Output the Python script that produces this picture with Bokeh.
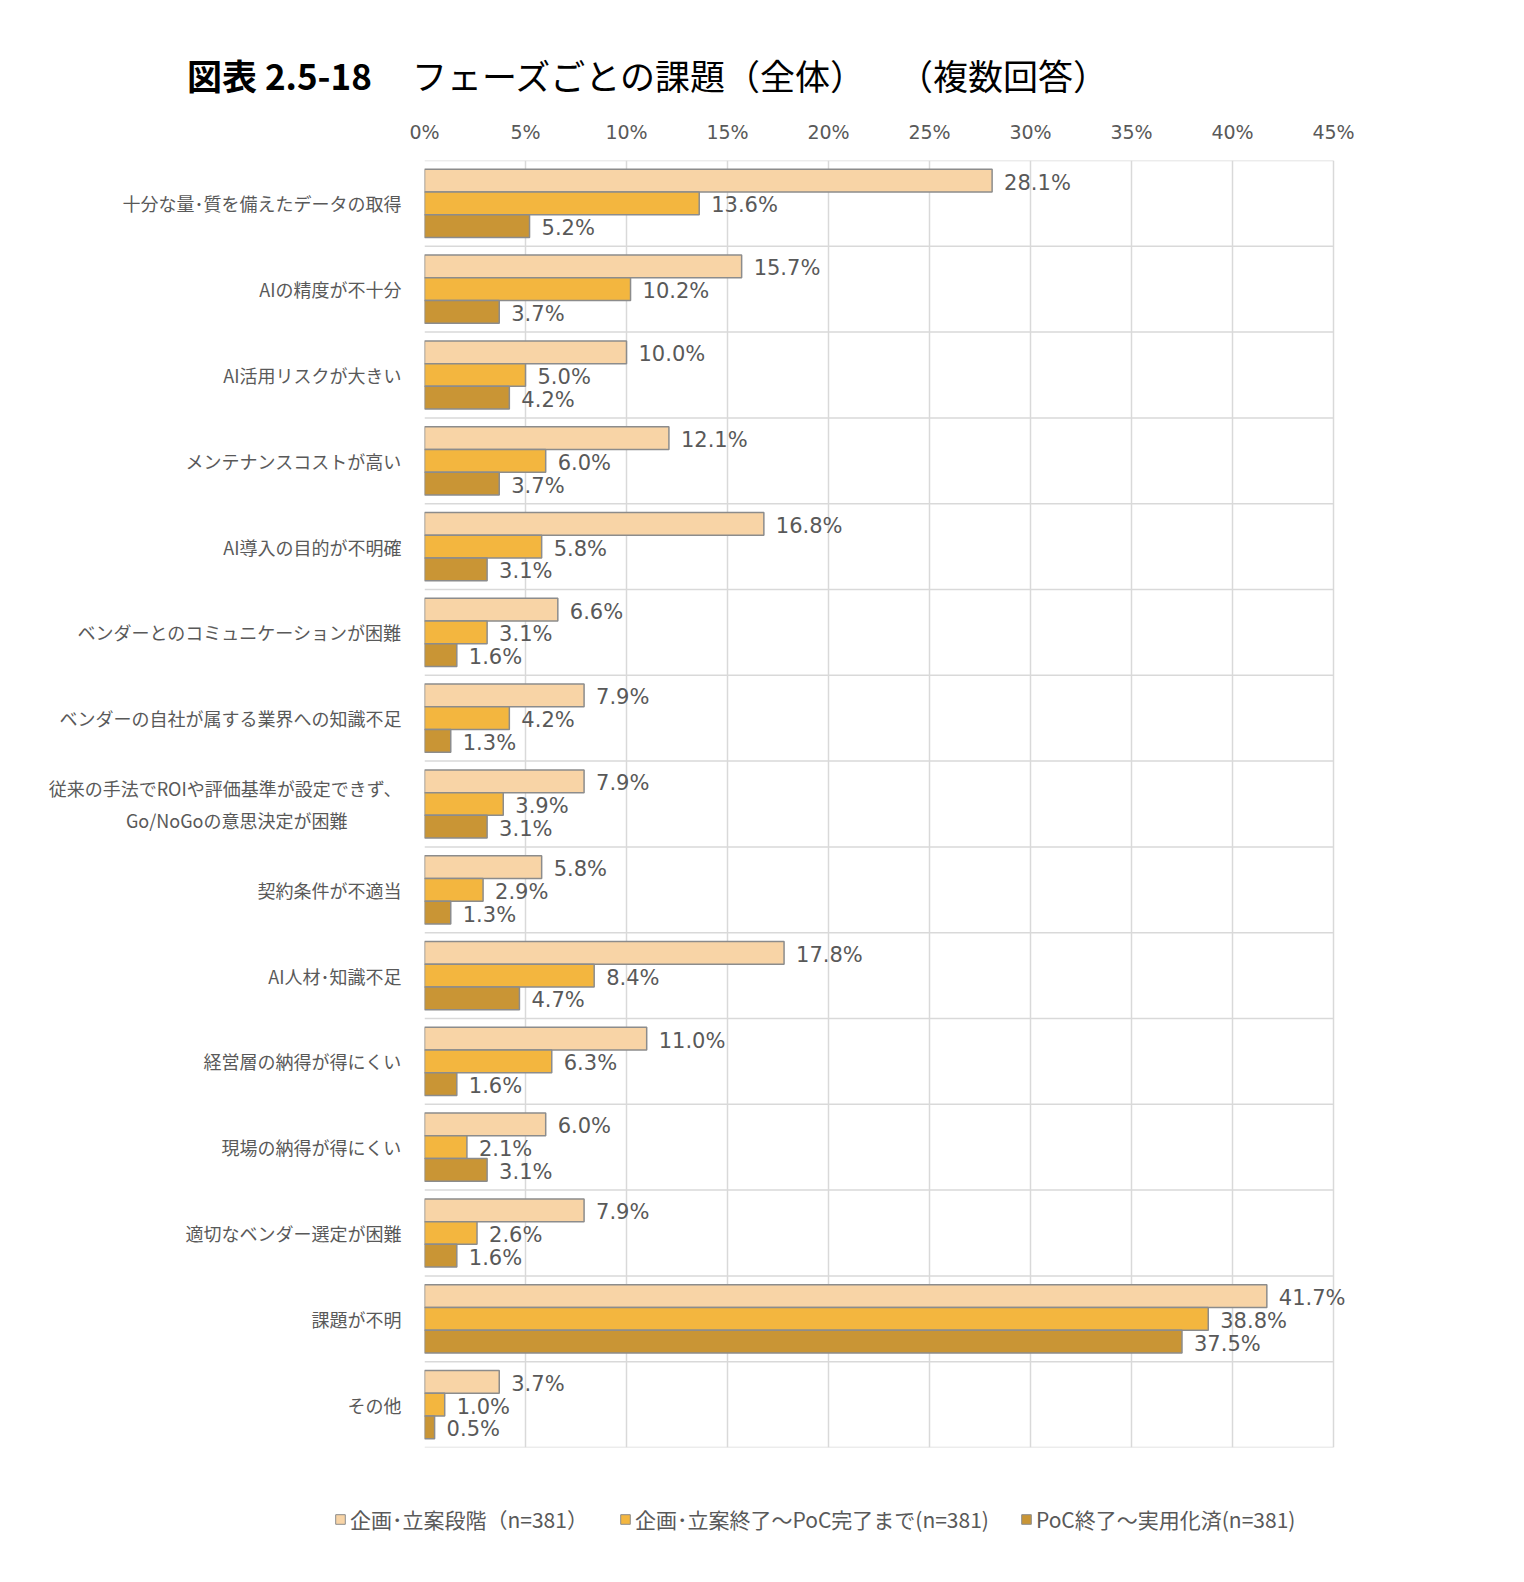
from bokeh.plotting import figure
from bokeh.models import (ColumnDataSource, Range1d, FixedTicker, Legend, LegendItem, Div)
from bokeh.layouts import column
from bokeh.core.properties import value
from bokeh.embed import file_html
from bokeh.resources import INLINE

categories = [
    "十分な量･質を備えたデータの取得",
    "AIの精度が不十分",
    "AI活用リスクが大きい",
    "メンテナンスコストが高い",
    "AI導入の目的が不明確",
    "ベンダーとのコミュニケーションが困難",
    "ベンダーの自社が属する業界への知識不足",
    "従来の手法でROIや評価基準が設定できず、\nGo/NoGoの意思決定が困難　　　",
    "契約条件が不適当",
    "AI人材･知識不足",
    "経営層の納得が得にくい",
    "現場の納得が得にくい",
    "適切なベンダー選定が困難",
    "課題が不明",
    "その他",
]
series_names = ["企画･立案段階（n=381）", "企画･立案終了～PoC完了まで(n=381)", "PoC終了～実用化済(n=381)"]
planning = [28.1, 15.7, 10.0, 12.1, 16.8, 6.6, 7.9, 7.9, 5.8, 17.8, 11.0, 6.0, 7.9, 41.7, 3.7]
to_poc = [13.6, 10.2, 5.0, 6.0, 5.8, 3.1, 4.2, 3.9, 2.9, 8.4, 6.3, 2.1, 2.6, 38.8, 1.0]
to_prod = [5.2, 3.7, 4.2, 3.7, 3.1, 1.6, 1.3, 3.1, 1.3, 4.7, 1.6, 3.1, 1.6, 37.5, 0.5]
x_ticks = [0, 5, 10, 15, 20, 25, 30, 35, 40, 45]
title_bold = "図表 2.5-18"
title_main = "フェーズごとの課題（全体）"
title_note = "（複数回答）"

colors = ["#F8D4A6", "#F3B63F", "#C99535"]
series = [planning, to_poc, to_prod]
n = len(categories)
bar_h = 0.265
offsets = [-bar_h, 0.0, bar_h]

W, H = 1524, 1582
TITLE_H = 110
LEG_H = 102
MAIN_H = H - TITLE_H - LEG_H
frame_left, frame_right_45, frame_right = 424, 1333, 1400
frame_top, frame_bottom = 160, 1447
x_max = x_ticks[-1]
x_end = x_max * (frame_right - frame_left) / (frame_right_45 - frame_left)

title_div = Div(
    width=W, height=TITLE_H,
    text=(f'<div style="position:relative;width:{W}px;height:{TITLE_H}px;'
          f'font-family:\'Noto Sans CJK JP\';font-size:35px;color:#000;">'
          f'<span style="position:absolute;left:187px;top:51px;line-height:48px;font-weight:bold;">{title_bold}</span>'
          f'<span style="position:absolute;left:412px;top:51px;line-height:48px;">{title_main}</span>'
          f'<span style="position:absolute;left:898px;top:51px;line-height:48px;">{title_note}</span></div>'),
    styles={"margin": "0", "padding": "0"})

p = figure(width=W, height=MAIN_H, output_backend="svg", toolbar_location=None,
           x_range=Range1d(0, x_end), y_range=Range1d(n, 0),
           x_axis_location="above", min_border_left=frame_left, min_border_right=W - frame_right,
           min_border_top=frame_top - TITLE_H, min_border_bottom=TITLE_H + MAIN_H - frame_bottom)
p.outline_line_color = None
p.background_fill_color = "white"
p.border_fill_color = "white"

# x axis (top)
xa = p.xaxis[0]
xa.ticker = FixedTicker(ticks=x_ticks)
xa.major_label_overrides = {t: f"{t}%" for t in x_ticks}
xa.major_label_text_font_size = "19px"
xa.major_label_text_color = "#595959"
xa.major_label_text_font = "DejaVu Sans"
xa.major_tick_line_color = None
xa.minor_tick_line_color = None
xa.axis_line_color = None
xa.major_label_standoff = 12

# y axis
ya = p.yaxis[0]
centers = [i + 0.5 for i in range(n)]
ya.ticker = FixedTicker(ticks=centers)
ya.major_label_overrides = {c: categories[i] for i, c in enumerate(centers)}
ya.major_label_text_font_size = "18px"
ya.major_label_text_color = "#595959"
ya.major_label_text_font = "Noto Sans CJK JP"
ya.major_tick_line_color = None
ya.minor_tick_line_color = None
ya.axis_line_color = None
ya.major_label_standoff = 17

p.xgrid.ticker = FixedTicker(ticks=x_ticks)
p.xgrid.grid_line_color = "#D9D9D9"
p.xgrid.grid_line_width = 1.5
p.ygrid.grid_line_color = None
# category separators limited to the 0-45% area
bounds = list(range(n + 1))
p.segment(x0=[0] * len(bounds), x1=[x_max] * len(bounds), y0=bounds, y1=bounds,
          line_color="#D9D9D9", line_width=1.5)

for k, (vals, col, off) in enumerate(zip(series, colors, offsets)):
    ys = [c + off for c in centers]
    src = ColumnDataSource(dict(y=ys, right=vals, lab=[f"{v:.1f}%" for v in vals]))
    p.hbar(y="y", left=0, right="right", height=bar_h, source=src,
           fill_color=col, line_color="#8C8C8C", line_width=1.5)
    p.text(x="right", y="y", text="lab", source=src, x_offset=12, y_offset=2,
           text_baseline="middle", text_align="left", text_font_size="21px",
           text_color="#595959", text_font=value("DejaVu Sans"))

# legend strip (own figure so the legend can sit left of the plot frame)
pl = figure(width=W, height=LEG_H, output_backend="svg", toolbar_location=None,
            x_axis_type=None, y_axis_type=None, min_border=0,
            x_range=Range1d(0, 1), y_range=Range1d(0, 1))
pl.outline_line_color = None
pl.grid.grid_line_color = None
items = []
for k, col in enumerate(colors):
    # hidden swatch renderer; only its legend entry is shown
    r = pl.hbar(y=[5], right=[1], left=0, height=0.5, fill_color=col,
                line_color="#8C8C8C", line_width=1, visible=False)
    items.append(LegendItem(label=series_names[k], renderers=[r]))
legend = Legend(items=items, orientation="horizontal", location=(334, 48),
                glyph_width=12, glyph_height=12, spacing=31,
                label_text_font_size="21px", label_text_color="#595959",
                label_text_font="Noto Sans CJK JP", border_line_color=None,
                background_fill_alpha=0, padding=0, margin=0, label_standoff=4,
                inactive_fill_alpha=0)
pl.add_layout(legend, "center")

layout = column(title_div, column(p), column(pl), spacing=0)
open("out.html", "w").write(file_html(layout, INLINE))
